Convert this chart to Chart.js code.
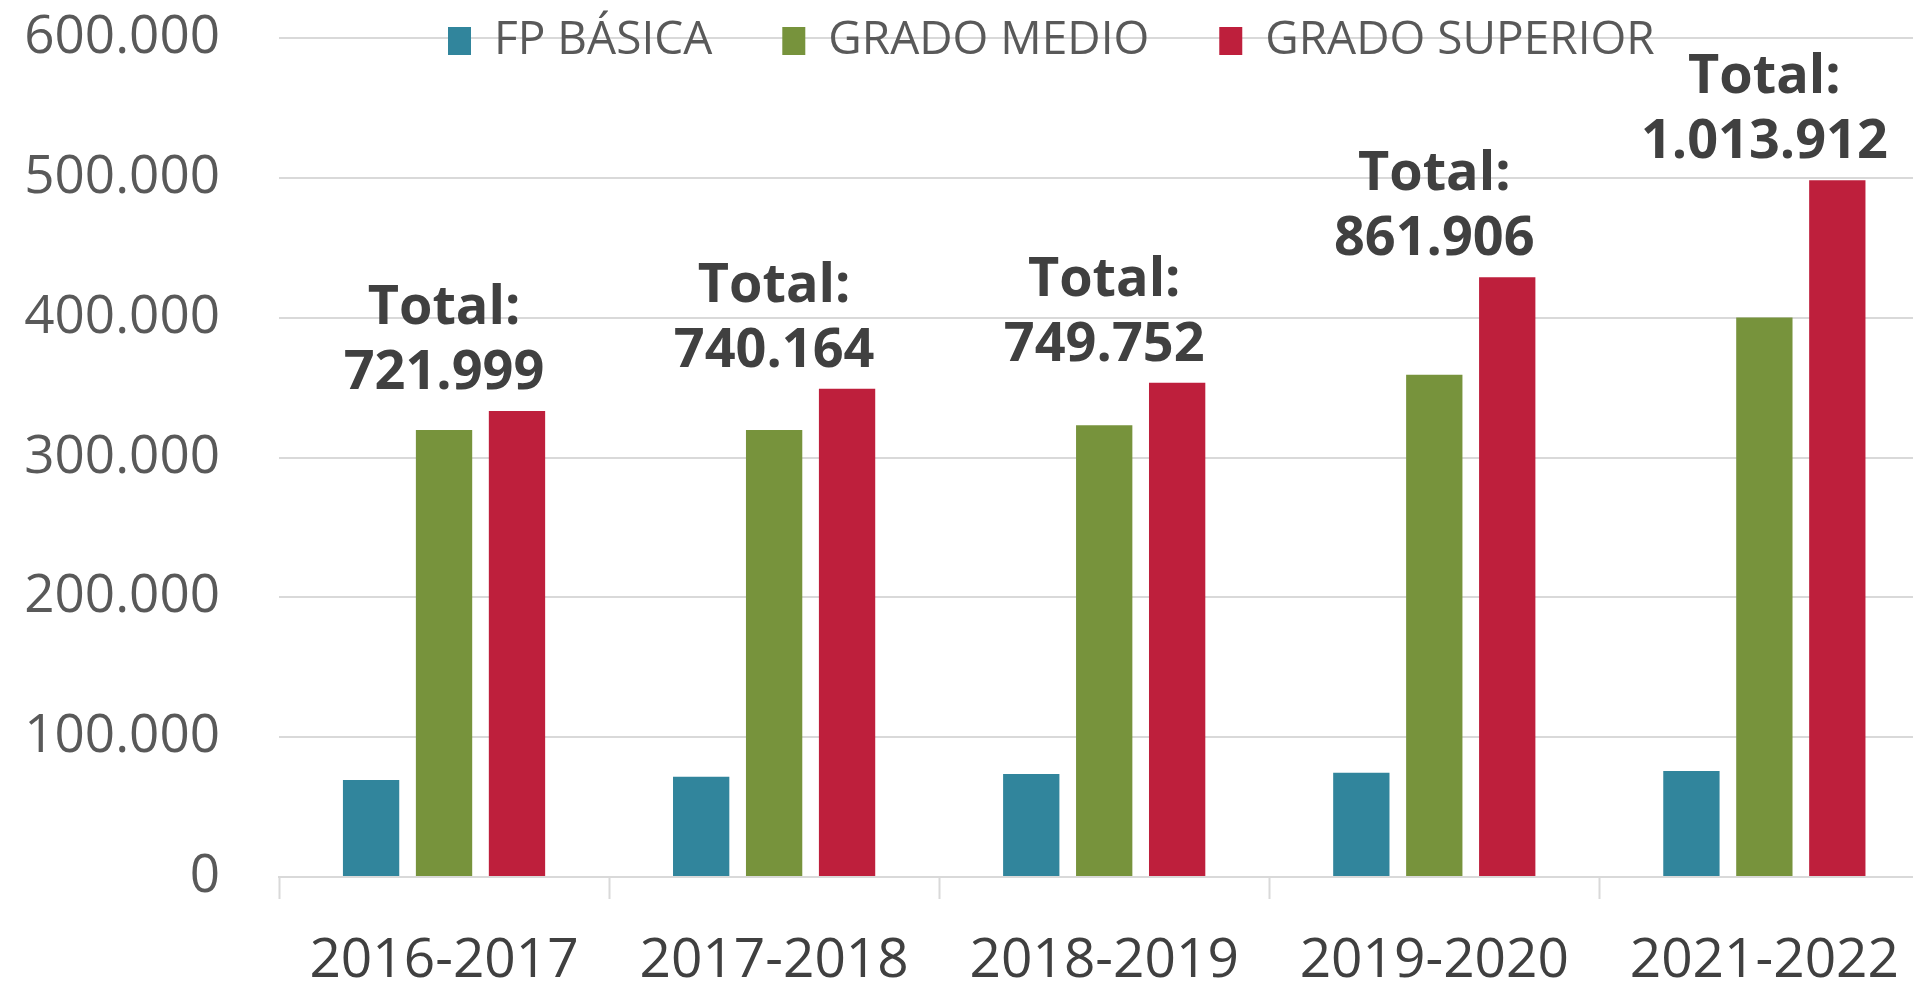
<!DOCTYPE html>
<html>
<head>
<meta charset="utf-8">
<script src="https://cdn.jsdelivr.net/npm/chart.js@4/dist/chart.umd.min.js"></script>
<style>
  html, body { margin: 0; padding: 0; background: #fff; overflow: hidden; }
  #wrap { position: relative; width: 1934px; height: 987px; }
</style>
</head>
<body>
<div id="wrap"><canvas id="barCanvas"></canvas></div>
<script>
const cursos = ["2016-2017", "2017-2018", "2018-2019", "2019-2020", "2021-2022"];
const fpBasica = [69300, 71700, 73600, 74500, 75800];
const gradoMedio = [319700, 319700, 323000, 359100, 400200];
const gradoSuperior = [333300, 349100, 353400, 428900, 498200];
const totales = [721999, 740164, 749752, 861906, 1013912];
const yTicks = [0, 100000, 200000, 300000, 400000, 500000, 600000];

const fmt = v => String(v).replace(/\B(?=(\d{3})+(?!\d))/g, ".");
const FONT = "'Open Sans', 'Noto Sans', sans-serif";

// legend sits over the plot, no space reserved for it
const legendOver = {
    id: "legendOver",
    beforeLayout(chart) {
        const lg = chart.legend;
        if (lg && !lg._over) {
            const fit = lg.fit;
            lg.fit = function () { fit.call(this); this.height = 0; };
            lg._over = true;
        }
    },
    afterLayout(chart) {
        const lg = chart.legend;
        const pad = lg.options.labels.padding;
        lg.top = 18 - pad;
        lg.bottom = 200;
        lg.left = 448 - pad;
        lg.right = chart.width;
        lg.height = lg.bottom - lg.top;
        lg.width = lg.right - lg.left;
    }
};

// "Total:" labels above each group
const totalLabels = {
    id: "totalLabels",
    afterDatasetsDraw(chart) {
        const ctx = chart.ctx;
        const meta = chart.getDatasetMeta(2);
        ctx.save();
        ctx.fillStyle = "#404040";
        ctx.font = "bold 54px " + FONT;
        ctx.textAlign = "center";
        ctx.textBaseline = "alphabetic";
        totales.forEach((t, i) => {
            const x = chart.scales.x.getPixelForValue(i);
            const top = meta.data[i].y;
            ctx.fillText(fmt(t), x, top - 22);
            ctx.fillText("Total:", x, top - 22 - 65);
        });
        ctx.restore();
    }
};

const barCanvas = document.getElementById("barCanvas");

const barChart = new Chart(barCanvas, {
    type: "bar",
    data: {
        labels: cursos,
        datasets: [
            { label: "FP BÁSICA", data: fpBasica, backgroundColor: "#31859C" },
            { label: "GRADO MEDIO", data: gradoMedio, backgroundColor: "#77933C" },
            { label: "GRADO SUPERIOR", data: gradoSuperior, backgroundColor: "#BE1F3C" }
        ]
    },
    options: {
        responsive: true,
        maintainAspectRatio: false,
        animation: false,
        layout: { padding: { top: 38, left: 0, right: 0, bottom: 0 } },
        datasets: {
            bar: { categoryPercentage: 0.663, barPercentage: 0.772 }
        },
        scales: {
            x: {
                afterFit(scale) { scale.height = 110; },
                grid: {
                    offset: true,
                    drawOnChartArea: false,
                    tickLength: 22,
                    tickWidth: 2,
                    color: "#d9d9d9"
                },
                border: { display: true, color: "#d9d9d9", width: 2 },
                ticks: {
                    color: "#404040",
                    padding: 35,
                    maxRotation: 0,
                    font: { family: FONT, size: 55, lineHeight: 1.0 }
                }
            },
            y: {
                min: 0,
                max: 600000,
                afterFit(scale) {
                    scale.width = 279;
                    scale.paddingTop = 0;
                    scale.paddingBottom = 0;
                },
                afterBuildTicks(scale) { scale.ticks = yTicks.map(v => ({ value: v })); },
                grid: { color: "#d9d9d9", lineWidth: 2, drawTicks: false },
                border: { display: false },
                ticks: {
                    color: "#595959",
                    padding: 59,
                    font: { family: FONT, size: 53 },
                    callback: v => fmt(v)
                }
            }
        },
        plugins: {
            legend: {
                position: "top",
                align: "start",
                labels: {
                    color: "#595959",
                    boxWidth: 23,
                    boxHeight: 28,
                    padding: 70,
                    font: { family: FONT, size: 46 }
                }
            },
            tooltip: { enabled: false }
        }
    },
    plugins: [legendOver, totalLabels]
});
</script>
</body>
</html>
